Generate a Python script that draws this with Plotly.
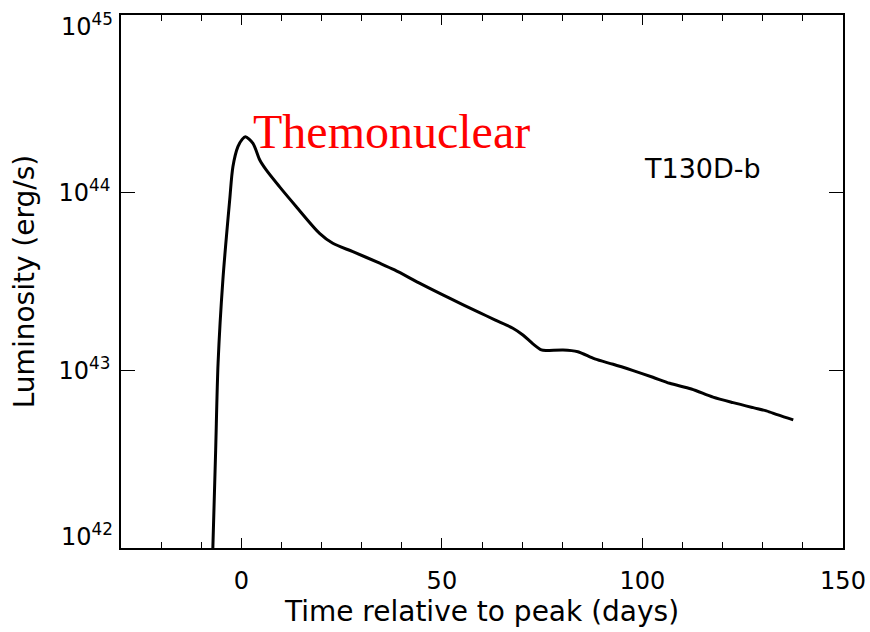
import plotly.graph_objects as go

days = [-7.1, -6.4, -5.8, -4.6, -2.9, -2.1, -0.85, 0.2, 1.0, 2.9, 4.6, 6.2, 9.5, 13.7, 19.5,
        22.8, 27.8, 34.5, 38.2, 44.9, 51.9, 59.4, 63.2, 67.7, 70.2, 72.7, 74.8, 76.0, 80.2,
        83.9, 88.1, 92.7, 97.7, 102.6, 106.8, 112.2, 117.6, 122.6, 127.6, 130.9, 133.8, 137.6]
log_lum = [42.0, 42.55, 43.04, 43.509, 43.959, 44.146, 44.259, 44.30, 44.315, 44.278, 44.184,
           44.128, 44.034, 43.921, 43.771, 43.715, 43.668, 43.603, 43.565, 43.485, 43.406,
           43.325, 43.284, 43.237, 43.199, 43.149, 43.115, 43.111, 43.115, 43.105, 43.064,
           43.034, 42.998, 42.961, 42.927, 42.895, 42.849, 42.818, 42.790, 42.772, 42.749,
           42.721]
lum = [10 ** v for v in log_lum]

ytick_vals = [1e42, 1e43, 1e44, 1e45]
ytick_text = ["10<sup>42</sup>", "10<sup>43</sup>", "10<sup>44</sup>", "10<sup>45</sup>"]
xtick_vals = [0, 50, 100, 150]

font_fam = "DejaVu Sans"
tick_font = dict(family=font_fam, size=24, color="black")

# end labels are drawn inside the axis span (as in the original), inner ones as tick labels
inner_text = [""] + ytick_text[1:-1] + [""]

fig = go.Figure()
fig.add_trace(go.Scatter(x=days, y=lum, mode="lines",
                         line=dict(color="black", width=3, shape="spline", smoothing=0.8),
                         showlegend=False, hoverinfo="skip"))

fig.add_annotation(x=2.3, y=44.344, xref="x", yref="y", text="Themonuclear", showarrow=False,
                   xanchor="left", yanchor="middle",
                   font=dict(family="Liberation Serif", size=48, color="red"))
fig.add_annotation(x=130.0, y=44.134, xref="x", yref="y", text="T130D-b", showarrow=False,
                   xanchor="right", yanchor="middle",
                   font=dict(family=font_fam, size=27, color="black"))

fig.add_annotation(x=0, y=0, xref="paper", yref="paper", text=ytick_text[0], showarrow=False,
                   xanchor="right", yanchor="bottom", xshift=-6, yshift=-5, font=tick_font)
fig.add_annotation(x=0, y=1, xref="paper", yref="paper", text=ytick_text[-1], showarrow=False,
                   xanchor="right", yanchor="top", xshift=-6, yshift=8, font=tick_font)

fig.update_xaxes(range=[-30, 150], tickvals=xtick_vals, ticks="inside", ticklen=10,
                 tickwidth=1.3, tickcolor="black", showline=True, linecolor="black",
                 linewidth=1.5, mirror="ticks", showgrid=False, zeroline=False,
                 automargin=False,
                 minor=dict(dtick=10, ticks="inside", ticklen=6, tickwidth=1.3,
                            tickcolor="black", showgrid=False),
                 ticklabelstandoff=10, ticklabeloverflow="allow",
                 tickfont=tick_font,
                 title=dict(text="Time relative to peak (days)",
                            font=dict(family=font_fam, size=28, color="black"), standoff=4))
fig.update_yaxes(type="log", range=[42, 45], tickvals=ytick_vals, ticktext=inner_text,
                 ticks="inside", ticklen=14, tickwidth=1.3, tickcolor="black",
                 showline=True, linecolor="black", linewidth=1.5, mirror="ticks",
                 showgrid=False, zeroline=False, ticklabelstandoff=4, automargin=False,
                 tickfont=tick_font,
                 title=dict(text="Luminosity (erg/s)",
                            font=dict(family=font_fam, size=28, color="black"), standoff=16))

fig.update_layout(width=870, height=632, margin=dict(l=121, r=27, t=15, b=84),
                  plot_bgcolor="white", paper_bgcolor="white")

fig.write_html("out.html")
